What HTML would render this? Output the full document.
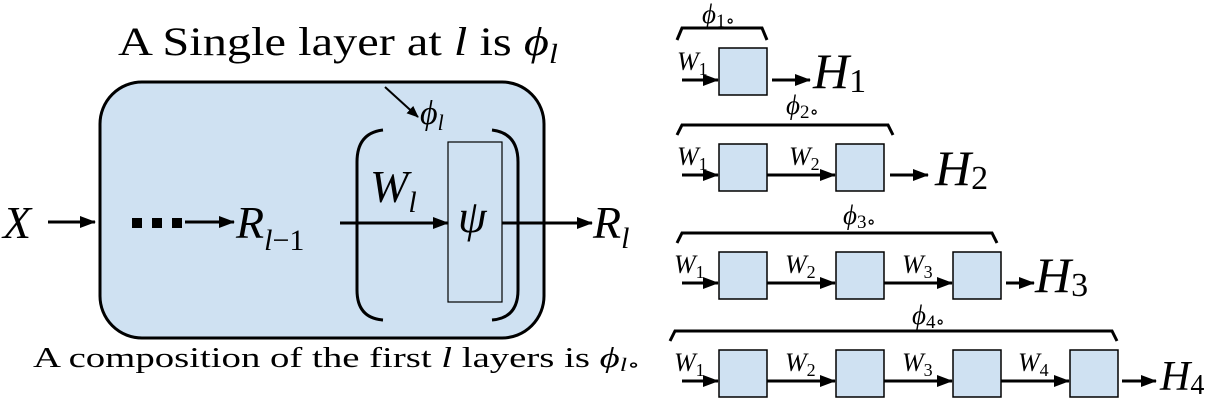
<!DOCTYPE html>
<html><head><meta charset="utf-8"><style>
html,body{margin:0;padding:0;background:#fff;}
svg{display:block;}
text{font-family:"Liberation Serif","DejaVu Serif",serif;fill:#000;}
.i{font-style:italic;}
</style></head><body>
<svg width="1232" height="408" viewBox="0 0 1232 408" xmlns="http://www.w3.org/2000/svg">
<defs>
<marker id="a" markerUnits="userSpaceOnUse" markerWidth="16" markerHeight="12" refX="15" refY="6" orient="auto">
<path d="M0,0 L16,6 L0,12 Z" fill="#000"/>
</marker>
<marker id="s" markerUnits="userSpaceOnUse" markerWidth="12" markerHeight="10" refX="11" refY="5" orient="auto">
<path d="M0,0 L12,5 L0,10 Z" fill="#000"/>
</marker>
</defs>
<rect x="100" y="82" width="444" height="256" rx="42" ry="42" fill="#cfe1f2" stroke="#000" stroke-width="3"/>
<text x="118" y="55" font-size="40" textLength="440" lengthAdjust="spacingAndGlyphs">A Single layer at <tspan class="i">l</tspan> is <tspan class="i">ϕ</tspan><tspan class="i" font-size="27" dy="8">l</tspan></text>
<line x1="385" y1="87" x2="418" y2="117" stroke="#000" stroke-width="2" marker-end="url(#s)"/>
<text x="420" y="124" font-size="34" class="i">ϕ<tspan font-size="22" dy="6">l</tspan></text>
<path d="M383,130 Q357,133 357,162 L357,290 Q357,318 383,320" fill="none" stroke="#000" stroke-width="3"/>
<path d="M492,130 Q518,133 518,162 L518,290 Q518,318 492,320" fill="none" stroke="#000" stroke-width="3"/>
<rect x="448" y="142" width="54" height="160" fill="#cfe1f2" stroke="#000" stroke-width="1.2"/>
<text x="3" y="238" font-size="46" class="i">X</text>
<line x1="48" y1="222" x2="95" y2="222" stroke="#000" stroke-width="3" marker-end="url(#a)"/>
<rect x="132" y="218" width="10" height="10" fill="#000"/>
<rect x="152" y="218" width="10" height="10" fill="#000"/>
<rect x="172" y="218" width="10" height="10" fill="#000"/>
<line x1="185" y1="222" x2="234" y2="222" stroke="#000" stroke-width="3" marker-end="url(#a)"/>
<text x="236" y="238" font-size="46" class="i">R<tspan font-size="30" dy="12">l</tspan><tspan font-size="30" font-style="normal">−1</tspan></text>
<text x="370" y="202" font-size="46" class="i">W<tspan font-size="30" dy="10">l</tspan></text>
<line x1="340" y1="223" x2="448" y2="223" stroke="#000" stroke-width="3" marker-end="url(#a)"/>
<text x="458" y="232" font-size="46" class="i">ψ</text>
<line x1="502" y1="223" x2="592" y2="223" stroke="#000" stroke-width="3" marker-end="url(#a)"/>
<text x="593" y="238" font-size="46" class="i">R<tspan font-size="30" dy="10">l</tspan></text>
<text x="33" y="367" font-size="28" textLength="607" lengthAdjust="spacingAndGlyphs">A composition of the first <tspan class="i">l</tspan> layers is <tspan class="i">ϕ</tspan><tspan class="i" font-size="19" dy="4">l</tspan><tspan font-size="19">∘</tspan></text>

<g fill="#cfe1f2" stroke="#000" stroke-width="1.5">
<rect x="719" y="48" width="48" height="47"/>
<rect x="719" y="144" width="48" height="47"/><rect x="836" y="144" width="48" height="47"/>
<rect x="719" y="252" width="48" height="47"/><rect x="836" y="252" width="48" height="47"/><rect x="953" y="252" width="48" height="47"/>
<rect x="719" y="350" width="48" height="47"/><rect x="836" y="350" width="48" height="47"/><rect x="953" y="350" width="48" height="47"/><rect x="1070" y="350" width="48" height="47"/>
</g>
<g fill="none" stroke="#000" stroke-width="3">
<path d="M677,40 L682,28 L762,28 L767,40"/>
<path d="M677,135 L682,125 L888,125 L893,135"/>
<path d="M677,243 L682,233 L992,233 L997,243"/>
<path d="M670,341 L675,331 L1112,331 L1117,341"/>
</g>
<g stroke="#000" stroke-width="3">
<line x1="682" y1="80" x2="718" y2="80" marker-end="url(#a)"/>
<line x1="772" y1="80" x2="810" y2="80" marker-end="url(#a)"/>
<line x1="682" y1="175" x2="718" y2="175" marker-end="url(#a)"/>
<line x1="767" y1="175" x2="835" y2="175" marker-end="url(#a)"/>
<line x1="890" y1="175" x2="928" y2="175" marker-end="url(#a)"/>
<line x1="682" y1="283" x2="718" y2="283" marker-end="url(#a)"/>
<line x1="767" y1="283" x2="835" y2="283" marker-end="url(#a)"/>
<line x1="884" y1="283" x2="952" y2="283" marker-end="url(#a)"/>
<line x1="1006" y1="283" x2="1034" y2="283" marker-end="url(#a)"/>
<line x1="682" y1="381" x2="718" y2="381" marker-end="url(#a)"/>
<line x1="767" y1="381" x2="835" y2="381" marker-end="url(#a)"/>
<line x1="884" y1="381" x2="952" y2="381" marker-end="url(#a)"/>
<line x1="1001" y1="381" x2="1069" y2="381" marker-end="url(#a)"/>
<line x1="1122" y1="381" x2="1156" y2="381" marker-end="url(#a)"/>
</g>
<g font-size="26" class="i">
<text x="677" y="70">W<tspan font-size="18" font-style="normal" dy="5">1</tspan></text>
<text x="677" y="165">W<tspan font-size="18" font-style="normal" dy="5">1</tspan></text>
<text x="789" y="165">W<tspan font-size="18" font-style="normal" dy="5">2</tspan></text>
<text x="674" y="273">W<tspan font-size="18" font-style="normal" dy="5">1</tspan></text>
<text x="785" y="273">W<tspan font-size="18" font-style="normal" dy="5">2</tspan></text>
<text x="902" y="273">W<tspan font-size="18" font-style="normal" dy="5">3</tspan></text>
<text x="674" y="371">W<tspan font-size="18" font-style="normal" dy="5">1</tspan></text>
<text x="785" y="371">W<tspan font-size="18" font-style="normal" dy="5">2</tspan></text>
<text x="902" y="371">W<tspan font-size="18" font-style="normal" dy="5">3</tspan></text>
<text x="1018" y="371">W<tspan font-size="18" font-style="normal" dy="5">4</tspan></text>
</g>
<g font-size="27" class="i">
<text x="702" y="23">ϕ<tspan font-size="19" font-style="normal" dy="4">1∘</tspan></text>
<text x="786" y="114">ϕ<tspan font-size="19" font-style="normal" dy="4">2∘</tspan></text>
<text x="843" y="224">ϕ<tspan font-size="19" font-style="normal" dy="4">3∘</tspan></text>
<text x="912" y="324">ϕ<tspan font-size="19" font-style="normal" dy="4">4∘</tspan></text>
</g>
<text x="813" y="88" font-size="50" class="i">H<tspan font-size="34" font-style="normal" dy="4">1</tspan></text>
<text x="935" y="185" font-size="50" class="i">H<tspan font-size="34" font-style="normal" dy="4">2</tspan></text>
<text x="1035" y="292" font-size="50" class="i">H<tspan font-size="34" font-style="normal" dy="4">3</tspan></text>
<text x="1160" y="390" font-size="42" class="i">H<tspan font-size="28" font-style="normal" dy="4">4</tspan></text>
</svg>
</body></html>
